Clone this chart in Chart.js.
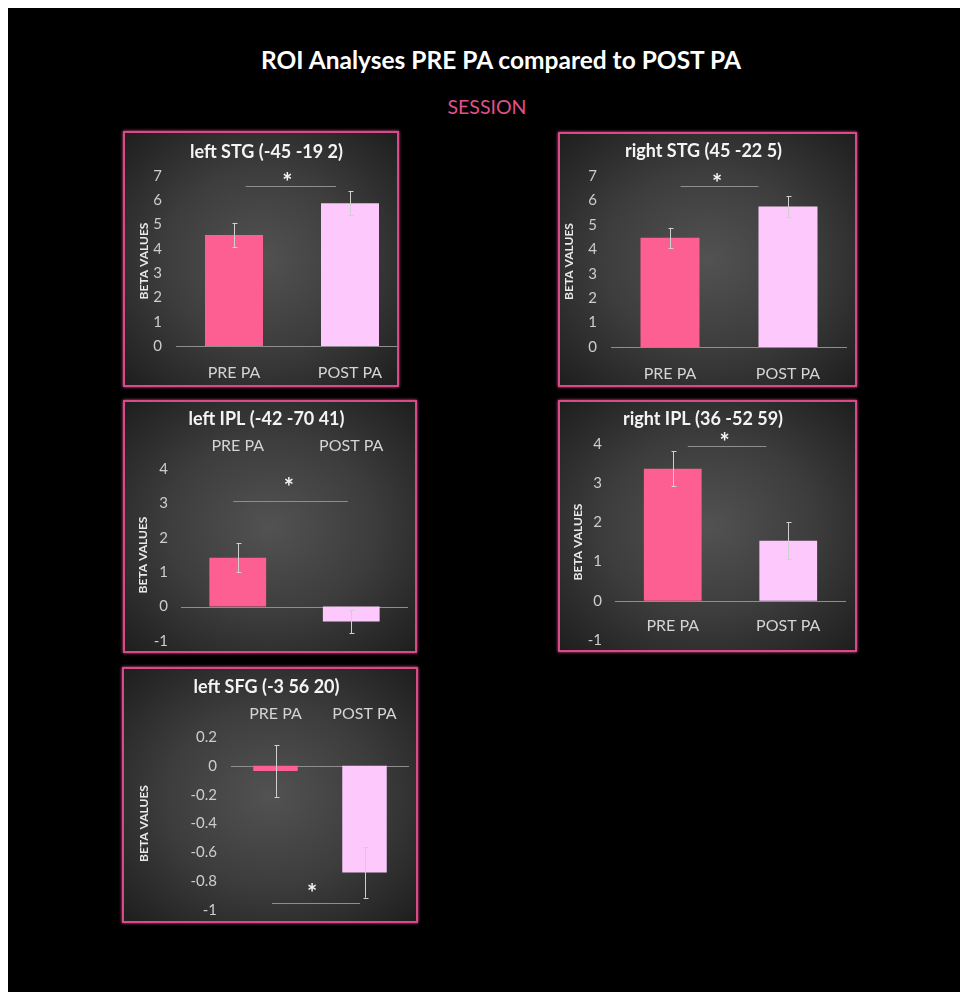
<!DOCTYPE html>
<html>
<head>
<meta charset="utf-8">
<title>ROI Analyses PRE PA compared to POST PA</title>
<script src="https://cdn.jsdelivr.net/npm/chart.js@4.4.1/dist/chart.umd.min.js"></script>
<style>
  html, body { margin: 0; padding: 0; background: #fff; width: 960px; height: 992px; overflow: hidden; }
  #stage { position: absolute; left: 8px; top: 8px; width: 952px; height: 984px; background: #000; font-family: Lato, "Open Sans", sans-serif; }
  #main-title { position: absolute; left: 0; width: 986px; top: 37px; text-align: center; color: #fff; font-weight: bold; font-size: 24.5px; }
  #session { position: absolute; left: 0; width: 958px; top: 87px; text-align: center; color: #e2508c; font-size: 19.5px; }
  .panel { position: absolute; box-sizing: border-box; border: 2px solid #d84a8a; box-shadow: 0 0 3px #e0568f;
           background: radial-gradient(ellipse farthest-corner at 50% 50%, #525252 0%, #3d3d3d 50%, #1e1e1e 100%); overflow: hidden; }
  .panel canvas { position: absolute; left: 0; top: 0; }
</style>
</head>
<body>
<div id="stage">
  <div id="main-title">ROI Analyses PRE PA compared to POST PA</div>
  <div id="session">SESSION</div>
</div>
<script>
// sessions on the x axis, one bar each
const sessions = ['PRE PA', 'POST PA'];
const regions = ['left STG (-45 -19 2)', 'right STG (45 -22 5)', 'left IPL (-42 -70 41)',
                 'right IPL (36 -52 59)', 'left SFG (-3 56 20)'];

// mean beta values and their error bars, per region
const preBeta  = [4.57, 4.47, 1.42, 3.37, -0.035];
const postBeta = [5.88, 5.75, -0.43, 1.53, -0.74];
const preErr   = [0.50, 0.41, 0.42, 0.44, 0.18];
const postErr  = [0.50, 0.43, 0.34, 0.47, 0.175];

// y axis range per region
const yMin  = [0, 0, -1, -1, -1];
const yMax  = [7, 7, 4, 4, 0.2];
const yStep = [1, 1, 1, 1, 0.2];

// significance bracket: height, span in category units, star position
const sigLevel = [6.6, 6.58, 3.07, 3.94, -0.948];
const sigFrom  = [0.10, 0.09, -0.04, 0.13, -0.04];
const sigTo    = [0.88, 0.75, 0.97, 0.81, 0.95];
const starX    = [0.46, 0.40, 0.45, 0.45, 0.41];
const starY    = [6.93, 6.92, 3.6, 4.17, -0.85];

const PRE_COLOR = '#fd5f92';
const POST_COLOR = '#fdc9fc';

// box placement and chart-area fitting for each panel
const panels = [
  { left: 115, top: 123, w: 276, h: 256, cw: 283, xPos: 'bottom', yw: 51,  rp: 0, bp: 0,  tt: 8, tb: 13.4, xh: 39, yTitle: 12, tickPad: 14, xPad: 17 },
  { left: 550, top: 124, w: 299, h: 255, cw: 295, xPos: 'bottom', yw: 51,  rp: 8, bp: 0,  tt: 6, tb: 14.4, xh: 38, yTitle: 2,  tickPad: 14, xPad: 17 },
  { left: 115, top: 392, w: 294, h: 253, cw: 290, xPos: 'top',    yw: 56,  rp: 7, bp: 10, tt: 6, tb: 2.4,  xh: 37, yTitle: 11, tickPad: 13, xPad: 14 },
  { left: 550, top: 392, w: 299, h: 252, cw: 295, xPos: { y: 0 }, yw: 55,  rp: 9, bp: 10, tt: 6, tb: 14.4, xh: 0,  yTitle: 11, tickPad: 13, xPad: 15 },
  { left: 114, top: 659, w: 296, h: 256, cw: 292, xPos: 'top',    yw: 107, rp: 7, bp: 11, tt: 7, tb: 2.4,  xh: 37, yTitle: 13, tickPad: 14, xPad: 14 }
];

// zero line behind the bars, error bars and significance marks on top
const markings = {
  id: 'markings',
  beforeDatasetsDraw(chart) {
    const { ctx, chartArea, scales: { y } } = chart;
    const y0 = Math.round(y.getPixelForValue(0)) + 0.5;
    ctx.save();
    ctx.strokeStyle = '#8e8e8e';
    ctx.lineWidth = 1;
    ctx.beginPath();
    ctx.moveTo(chartArea.left, y0);
    ctx.lineTo(chartArea.right, y0);
    ctx.stroke();
    ctx.restore();
  },
  afterDatasetsDraw(chart, args, opts) {
    const { ctx, scales: { x, y } } = chart;
    const p = opts.panel;
    const errs = [preErr[p], postErr[p]];
    const vals = chart.data.datasets[0].data;
    ctx.save();
    ctx.strokeStyle = '#d0d0d0';
    ctx.lineWidth = 1;
    chart.getDatasetMeta(0).data.forEach((bar, k) => {
      const cx = Math.round(bar.x) + 0.5;
      const hi = y.getPixelForValue(vals[k] + errs[k]);
      const lo = y.getPixelForValue(vals[k] - errs[k]);
      ctx.beginPath();
      ctx.moveTo(cx, hi); ctx.lineTo(cx, lo);
      ctx.moveTo(cx - 2, Math.round(hi) + 0.5); ctx.lineTo(cx + 3, Math.round(hi) + 0.5);
      ctx.moveTo(cx - 2, Math.round(lo) + 0.5); ctx.lineTo(cx + 3, Math.round(lo) + 0.5);
      ctx.stroke();
    });
    const sy = Math.round(y.getPixelForValue(sigLevel[p])) + 0.5;
    ctx.strokeStyle = '#8e8e8e';
    ctx.beginPath();
    ctx.moveTo(x.getPixelForValue(sigFrom[p]), sy);
    ctx.lineTo(x.getPixelForValue(sigTo[p]), sy);
    ctx.stroke();
    ctx.fillStyle = '#f4f4f4';
    ctx.font = 'bold 24px Lato';
    ctx.textAlign = 'center';
    ctx.textBaseline = 'middle';
    ctx.fillText('*', x.getPixelForValue(starX[p]), y.getPixelForValue(starY[p]) + 6);
    ctx.restore();
  }
};

const stage = document.getElementById('stage');

panels.forEach((pn, i) => {
  const box = document.createElement('div');
  box.className = 'panel';
  Object.assign(box.style, { left: pn.left + 'px', top: pn.top + 'px', width: pn.w + 'px', height: pn.h + 'px' });
  const canvas = document.createElement('canvas');
  canvas.width = pn.cw;
  canvas.height = pn.h - 4;
  box.appendChild(canvas);
  stage.appendChild(box);

  new Chart(canvas.getContext('2d'), {
    type: 'bar',
    data: {
      labels: sessions,
      datasets: [{
        data: [preBeta[i], postBeta[i]],
        backgroundColor: [PRE_COLOR, POST_COLOR],
        borderWidth: 0,
        categoryPercentage: 1,
        barPercentage: 0.5
      }]
    },
    plugins: [markings],
    options: {
      responsive: false,
      animation: false,
      layout: { padding: { left: 0, right: pn.rp, top: 0, bottom: pn.bp } },
      plugins: {
        legend: { display: false },
        tooltip: { enabled: false },
        title: {
          display: true,
          text: regions[i],
          color: '#f4f4f4',
          font: { family: 'Lato', size: 18, weight: 'bold' },
          padding: { top: pn.tt, bottom: pn.tb }
        },
        markings: { panel: i }
      },
      scales: {
        x: {
          position: pn.xPos,
          grid: { display: false, drawTicks: false },
          border: { display: false },
          ticks: { color: '#d4d4d4', font: { family: 'Lato', size: 16 }, padding: pn.xPad },
          afterFit: s => { if (pn.xh) s.height = pn.xh; }
        },
        y: {
          min: yMin[i],
          max: yMax[i],
          grid: { display: false, drawTicks: false },
          border: { display: false },
          ticks: {
            stepSize: yStep[i],
            color: '#cdcdcd',
            font: { family: 'Lato', size: 15 },
            padding: pn.tickPad,
            callback: v => String(Number(v.toFixed(1)))
          },
          title: {
            display: true,
            text: 'BETA VALUES',
            color: '#e8e8e8',
            font: { family: 'Lato', size: 12, weight: 'bold' },
            padding: { top: pn.yTitle, bottom: 0 }
          },
          afterFit: s => {
            s.width = pn.yw;
            // keep the end labels from shrinking the plot
            s.paddingTop = 0;
            s.paddingBottom = 0;
          }
        }
      }
    }
  });
});
</script>
</body>
</html>
